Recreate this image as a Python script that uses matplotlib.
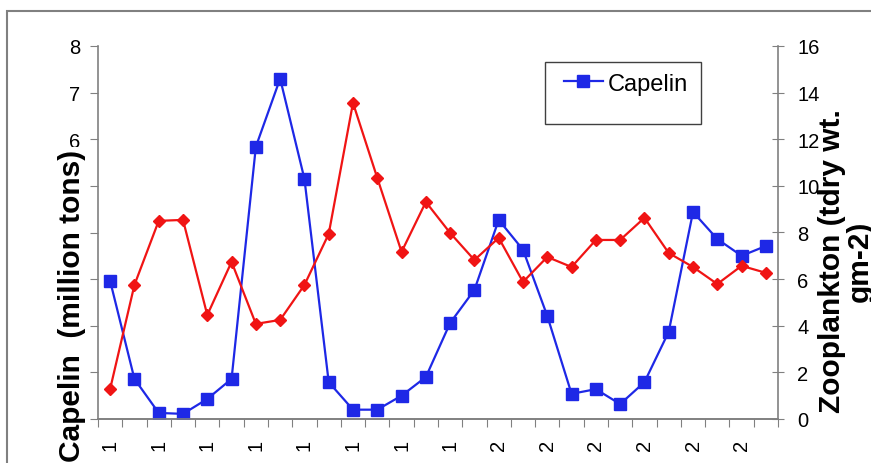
import numpy as np
import matplotlib
matplotlib.use("Agg")
import matplotlib.pyplot as plt
from matplotlib.patches import Rectangle

plt.rcParams['font.family'] = ['Liberation Sans', 'DejaVu Sans']

# data, 1984-2011
years = list(range(1984, 2012))
capelin = [2.96, 0.86, 0.13, 0.11, 0.43, 0.86, 5.84, 7.30, 5.15, 0.79,
           0.20, 0.20, 0.50, 0.90, 2.06, 2.77, 4.27, 3.63, 2.21, 0.54,
           0.64, 0.32, 0.79, 1.87, 4.44, 3.86, 3.50, 3.71]
zooplankton = [1.29, 5.75, 8.50, 8.54, 4.46, 6.74, 4.08, 4.25, 5.75, 7.94,
               13.56, 10.34, 7.17, 9.31, 7.98, 6.82, 7.77, 5.88, 6.95, 6.52,
               7.68, 7.68, 8.63, 7.12, 6.52, 5.79, 6.57, 6.27]
# only the first digit of each year label is visible in the original
tick_labels = [str(y)[0] for y in years[::2]]

W, H = 871, 464
fig = plt.figure(figsize=(W / 100, H / 100), dpi=100)
ax = fig.add_axes([98 / W, 1 - 420 / H, (778 - 98) / W, (420 - 47) / H])
ax2 = ax.twinx()

x = np.arange(len(years))
grey = '#808080'
fs = 14.5

ax.plot(x, capelin, color='#1e28e6', marker='s', markersize=8.5, lw=1.6,
        label='Capelin', zorder=3)
ax2.plot(x, zooplankton, color='#f01414', marker='D', markersize=6.5, lw=1.6)

ax.set_xlim(-0.5, len(years) - 0.5)
ax.set_ylim(0, 8)
ax2.set_ylim(0, 16)
ax.set_yticks(range(0, 9))
ax2.set_yticks(range(0, 17, 2))

ax.set_xticks(np.arange(-0.5, len(years), 1.0))
ax.set_xticklabels([])
ax.set_xticks(x[::2], minor=True)
ax.set_xticklabels(tick_labels, minor=True, rotation=90, fontsize=fs)
ax.tick_params(axis='x', which='major', length=6, color=grey, direction='out')
ax.tick_params(axis='x', which='minor', length=0, pad=14)
ax.tick_params(axis='y', length=6, color=grey, labelsize=fs, pad=7)
ax2.tick_params(axis='y', length=8, color=grey, labelsize=fs, direction='inout', pad=10)

for a in (ax, ax2):
    a.spines['top'].set_visible(False)
    for s in ('left', 'right', 'bottom'):
        a.spines[s].set_color(grey)
        a.spines[s].set_linewidth(1.2)
ax2.spines['left'].set_visible(False)
ax.spines['right'].set_visible(False)

# axis titles (they overlap the tick labels as in the original)
fig.text(72 / W, 1 - 306 / H, 'Capelin  (million tons)', rotation=90,
         ha='center', va='center', fontsize=21.5, fontweight='bold',
         bbox=dict(facecolor='white', edgecolor='none', pad=1))
fig.text(846 / W, 1 - 261 / H, 'Zooplankton (tdry wt.\ngm-2)', rotation=90,
         ha='center', va='center', fontsize=21.5, fontweight='bold',
         linespacing=1.0)

# legend: one entry in a taller box
leg = ax.legend(loc='upper left', bbox_to_anchor=(553 / W, 1 - 63 / H),
                bbox_transform=fig.transFigure, fontsize=17, frameon=False,
                handlelength=1.65, borderpad=0.45, borderaxespad=0,
                handletextpad=0.2)
fig.patches.append(Rectangle((545 / W, 1 - 125 / H), 156 / W, 62 / H,
                             transform=fig.transFigure, fill=False,
                             edgecolor='#404040', lw=1.0))

# outer chart border
fig.patches.append(Rectangle((7 / W, -0.1), 1.2, 1.1 - 12 / H,
                             transform=fig.transFigure, fill=False,
                             edgecolor=grey, lw=1.5))

fig.savefig('out.png', dpi=100)
